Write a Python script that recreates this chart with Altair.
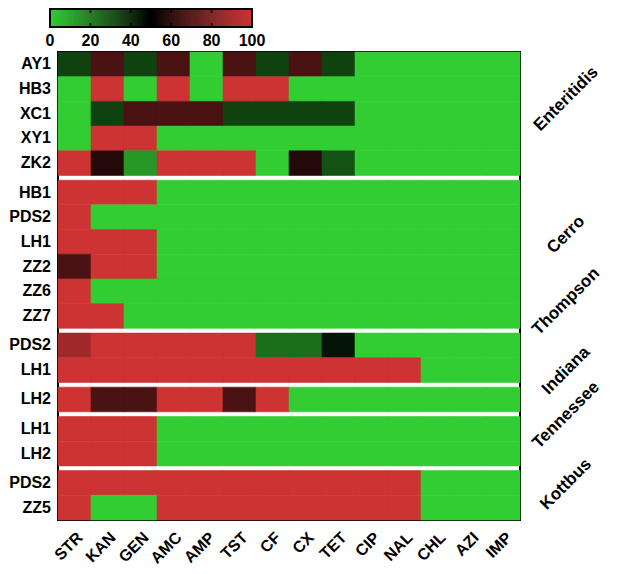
import altair as alt
import pandas as pd

FONT = "Liberation Sans"

DRUGS = ["STR", "KAN", "GEN", "AMC", "AMP", "TST", "CF", "CX", "TET",
         "CIP", "NAL", "CHL", "AZI", "IMP"]

GROUPS = ["Enteritidis", "Cerro", "Thompson", "Indiana", "Tennessee", "Kottbus"]

# isolates per serotype group
ENTERITIDIS_ISOLATES = ["AY1", "HB3", "XC1", "XY1", "ZK2"]
CERRO_ISOLATES = ["HB1", "PDS2", "LH1", "ZZ2", "ZZ6", "ZZ7"]
THOMPSON_ISOLATES = ["PDS2", "LH1"]
INDIANA_ISOLATES = ["LH2"]
TENNESSEE_ISOLATES = ["LH1", "LH2"]
KOTTBUS_ISOLATES = ["PDS2", "ZZ5"]

# resistance (%) per drug, in DRUGS order
ENT_AY1 = [34, 68, 34, 68, 0, 68, 34, 68, 34, 0, 0, 0, 0, 0]
ENT_HB3 = [0, 100, 0, 100, 0, 100, 100, 0, 0, 0, 0, 0, 0, 0]
ENT_XC1 = [0, 34, 68, 68, 68, 34, 34, 34, 34, 0, 0, 0, 0, 0]
ENT_XY1 = [0, 100, 100, 0, 0, 0, 0, 0, 0, 0, 0, 0, 0, 0]
ENT_ZK2 = [100, 59, 13, 100, 100, 100, 0, 59, 30, 0, 0, 0, 0, 0]

CER_HB1 = [100, 100, 100, 0, 0, 0, 0, 0, 0, 0, 0, 0, 0, 0]
CER_PDS2 = [100, 0, 0, 0, 0, 0, 0, 0, 0, 0, 0, 0, 0, 0]
CER_LH1 = [100, 100, 100, 0, 0, 0, 0, 0, 0, 0, 0, 0, 0, 0]
CER_ZZ2 = [68, 100, 100, 0, 0, 0, 0, 0, 0, 0, 0, 0, 0, 0]
CER_ZZ6 = [100, 0, 0, 0, 0, 0, 0, 0, 0, 0, 0, 0, 0, 0]
CER_ZZ7 = [100, 100, 0, 0, 0, 0, 0, 0, 0, 0, 0, 0, 0, 0]

THO_PDS2 = [89, 100, 100, 100, 100, 100, 23, 23, 45, 0, 0, 0, 0, 0]
THO_LH1 = [100, 100, 100, 100, 100, 100, 100, 100, 100, 100, 100, 0, 0, 0]

IND_LH2 = [100, 68, 68, 100, 100, 68, 100, 0, 0, 0, 0, 0, 0, 0]

TEN_LH1 = [100, 100, 100, 0, 0, 0, 0, 0, 0, 0, 0, 0, 0, 0]
TEN_LH2 = [100, 100, 100, 0, 0, 0, 0, 0, 0, 0, 0, 0, 0, 0]

KOT_PDS2 = [100, 100, 100, 100, 100, 100, 100, 100, 100, 100, 100, 0, 0, 0]
KOT_ZZ5 = [100, 0, 0, 100, 100, 100, 100, 100, 100, 100, 100, 0, 0, 0]

GROUP_ISOLATES = [ENTERITIDIS_ISOLATES, CERRO_ISOLATES, THOMPSON_ISOLATES,
                  INDIANA_ISOLATES, TENNESSEE_ISOLATES, KOTTBUS_ISOLATES]
GROUP_VALUES = [
    [ENT_AY1, ENT_HB3, ENT_XC1, ENT_XY1, ENT_ZK2],
    [CER_HB1, CER_PDS2, CER_LH1, CER_ZZ2, CER_ZZ6, CER_ZZ7],
    [THO_PDS2, THO_LH1],
    [IND_LH2],
    [TEN_LH1, TEN_LH2],
    [KOT_PDS2, KOT_ZZ5],
]

# colour bar tick labels
CBAR_TICKS = [0, 20, 40, 60, 80, 100]

# where each group name sits, in row units from the top
GROUP_LABEL_POS = [1.9, 7.4, 10.1, 12.9, 14.7, 17.5]
GAP = 0.19  # white separator between groups, in row units

cells, rows = [], []
r = 0
for k, (grp, isolates, vals) in enumerate(zip(GROUPS, GROUP_ISOLATES, GROUP_VALUES)):
    for name, v in zip(isolates, vals):
        y0 = r + k * GAP
        rows.append({"isolate": name, "group": grp, "yc": y0 + 0.5})
        for d, val in zip(DRUGS, v):
            cells.append({"isolate": name, "group": grp, "drug": d, "value": val,
                          "y0": y0, "y1": y0 + 1})
        r += 1
TOTAL = r + (len(GROUPS) - 1) * GAP

cells_df = pd.DataFrame(cells)
rows_df = pd.DataFrame(rows)
groups_df = pd.DataFrame({"group": GROUPS, "pos": GROUP_LABEL_POS})

# colour-bar ramp (samples of the colour scale)
ramp_df = pd.DataFrame({"v": [i * 0.5 for i in range(200)]})
ramp_df["v2"] = ramp_df["v"] + 0.5
ramp_df["vc"] = ramp_df["v"] + 0.25
ticks_df = pd.DataFrame({"t": CBAR_TICKS, "label": [str(t) for t in CBAR_TICKS]})
inner_ticks_df = ticks_df[(ticks_df["t"] > 0) & (ticks_df["t"] < 100)]
frame_df = pd.DataFrame({"lo": [0], "hi": [100]})

W, H = 462, 468

yscale = alt.Scale(domain=[0, TOTAL], reverse=True, nice=False, zero=False)
cscale = alt.Scale(domain=[0, 50, 100], range=["#32CD32", "#000000", "#CD3333"],
                   interpolate="rgb")
# colour bar placed above the plot, left-aligned with the row labels
cbx = alt.Scale(domain=[0, 100], range=[-8, 194], nice=False, zero=False)
CB_TOP, CB_BOT = -43, -25

heat = alt.Chart(cells_df).mark_rect(strokeWidth=0.6).encode(
    x=alt.X("drug:N", sort=DRUGS,
            scale=alt.Scale(paddingInner=0, paddingOuter=0),
            axis=alt.Axis(title=None, labelAngle=-45, labelFont=FONT,
                          labelFontWeight="bold", labelFontSize=16,
                          labelColor="black", ticks=False, domain=False,
                          labelPadding=9)),
    y=alt.Y("y0:Q", scale=yscale, axis=None),
    y2="y1:Q",
    color=alt.Color("value:Q", scale=cscale, legend=None),
    stroke=alt.Stroke("value:Q", scale=cscale, legend=None),
)

row_labels = alt.Chart(rows_df).mark_text(
    align="right", baseline="middle", font=FONT, fontWeight="bold",
    fontSize=16, color="black"
).encode(
    x=alt.value(-7),
    y=alt.Y("yc:Q", scale=yscale, axis=None),
    text="isolate:N",
)

group_labels = alt.Chart(groups_df).mark_text(
    angle=315, align="center", baseline="middle", font=FONT,
    fontWeight="bold", fontSize=17, color="black"
).encode(
    x=alt.value(508),
    y=alt.Y("pos:Q", scale=yscale, axis=None),
    text="group:N",
)

cbar = alt.Chart(ramp_df).mark_rect(strokeWidth=0.6).encode(
    x=alt.X("v:Q", scale=cbx, axis=None),
    x2="v2:Q",
    y=alt.value(CB_TOP), y2=alt.value(CB_BOT),
    color=alt.Color("vc:Q", scale=cscale, legend=None),
    stroke=alt.Stroke("vc:Q", scale=cscale, legend=None),
)

cbar_frame = alt.Chart(frame_df).mark_rect(
    filled=False, stroke="black", strokeWidth=2
).encode(
    x=alt.X("lo:Q", scale=cbx, axis=None),
    x2="hi:Q",
    y=alt.value(CB_TOP), y2=alt.value(CB_BOT),
)

cbar_ticks_top = alt.Chart(inner_ticks_df).mark_rule(
    color="black", strokeWidth=1.5
).encode(
    x=alt.X("t:Q", scale=cbx, axis=None),
    y=alt.value(CB_TOP), y2=alt.value(CB_TOP + 4),
)

cbar_ticks_bot = alt.Chart(inner_ticks_df).mark_rule(
    color="black", strokeWidth=1.5
).encode(
    x=alt.X("t:Q", scale=cbx, axis=None),
    y=alt.value(CB_BOT - 4), y2=alt.value(CB_BOT),
)

cbar_labels = alt.Chart(ticks_df).mark_text(
    align="center", baseline="middle", font=FONT, fontWeight="bold",
    fontSize=16, color="black"
).encode(
    x=alt.X("t:Q", scale=cbx, axis=None),
    y=alt.value(-11),
    text="label:N",
)

chart = alt.layer(
    heat, row_labels, group_labels,
    cbar, cbar_frame, cbar_ticks_top, cbar_ticks_bot, cbar_labels,
).resolve_scale(x="independent").properties(
    width=W, height=H,
    autosize=alt.AutoSizeParams(type="none"),
    padding={"left": 50, "top": 44, "right": 90, "bottom": 46},
    background="white",
).configure_view(stroke="black", strokeWidth=2)

chart.save("out.html", embed_options={"renderer": "svg", "actions": False})
